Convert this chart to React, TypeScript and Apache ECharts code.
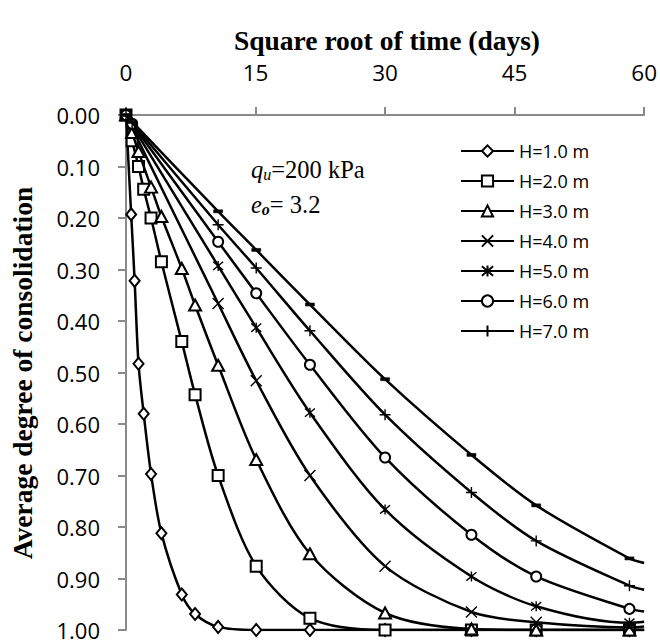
import React, { useEffect, useRef } from "react";
import * as echarts from "echarts";

// ---- data ----
const SERIES_NAMES = ["H=1.0 m", "H=2.0 m", "H=3.0 m", "H=4.0 m", "H=5.0 m", "H=6.0 m", "H=7.0 m", "H=8.0 m"];
const LEGEND_NAMES = SERIES_NAMES.slice(0, 7);

const X_TICKS = [0, 15, 30, 45, 60];

const H1_X = [0, 0.6, 1.0, 1.45, 2.05, 2.9, 4.1, 6.46, 8.0, 10.67, 15.08, 21.3, 30, 40, 47.5, 58.3];
const H1_U = [0, 0.193, 0.322, 0.483, 0.58, 0.697, 0.812, 0.931, 0.969, 0.994, 1, 1, 1, 1, 1, 1];

const H2_X = [0, 0.71, 1.45, 2.05, 2.9, 4.1, 6.46, 8.0, 10.67, 15.08, 21.3, 30, 40, 47.5, 58.3];
const H2_U = [0, 0.05, 0.1, 0.144, 0.2, 0.285, 0.44, 0.543, 0.7, 0.876, 0.977, 1, 1, 1, 1];

const H3_X = [0, 0.71, 1.45, 2.9, 4.1, 6.46, 8.0, 10.67, 15.08, 21.3, 30, 40, 47.5, 58.3];
const H3_U = [0, 0.034, 0.071, 0.14, 0.197, 0.298, 0.369, 0.486, 0.669, 0.852, 0.967, 0.998, 1, 1];

const LATE_X = [0, 0.71, 10.67, 15.08, 21.3, 30, 40, 47.5, 58.3];
const H4_U = [0, 0.025, 0.366, 0.516, 0.7, 0.876, 0.965, 0.985, 0.995];
const H5_U = [0, 0.02, 0.293, 0.413, 0.578, 0.766, 0.896, 0.954, 0.986];
const H6_U = [0, 0.017, 0.246, 0.346, 0.485, 0.665, 0.815, 0.896, 0.959];
const H7_U = [0, 0.015, 0.213, 0.297, 0.419, 0.582, 0.733, 0.827, 0.914];
const H8_U = [0, 0.013, 0.187, 0.262, 0.368, 0.513, 0.66, 0.758, 0.861];

// value of each curve where it leaves the plot at the right edge (x = 60)
const EDGE_X = 60;
const EDGE_U = [1, 1, 1, 0.993, 0.984, 0.964, 0.922, 0.87];

const SERIES_X = [H1_X, H2_X, H3_X, LATE_X, LATE_X, LATE_X, LATE_X, LATE_X];
const SERIES_U = [H1_U, H2_U, H3_U, H4_U, H5_U, H6_U, H7_U, H8_U];

const SANS = "Open Sans";
const SERIF = "Liberation Serif";
const AXIS_GRAY = "#8a8a8a";

type Mk = { symbol: string; size: number | number[]; hollow: boolean; filled?: boolean };
const MARKERS: Mk[] = [
  { symbol: "emptyDiamond", size: [10, 12], hollow: true },
  { symbol: "emptyRect", size: 11, hollow: true },
  { symbol: "emptyTriangle", size: [12, 11], hollow: true },
  { symbol: "path://M0,0L10,10M10,0L0,10", size: 11, hollow: false },
  { symbol: "path://M0,0L10,10M10,0L0,10M5,-1L5,11", size: 10, hollow: false },
  { symbol: "emptyCircle", size: 10, hollow: true },
  { symbol: "path://M5,0L5,10M0,5L10,5", size: 11, hollow: false },
  { symbol: "path://M0,0L10,0L10,3L0,3Z", size: [9, 3], hollow: false, filled: true },
];

function buildSeries() {
  return SERIES_NAMES.map((name, i) => {
    const xs = SERIES_X[i];
    const us = SERIES_U[i];
    const data: any[] = xs.map((x, k) => [x, us[k]]);
    data.push({ value: [EDGE_X, EDGE_U[i]], symbol: "none" });
    const m = MARKERS[i];
    const itemStyle = m.hollow
      ? { color: "#000", borderColor: "#000", borderWidth: 1.3 }
      : m.filled
      ? { color: "#000", borderColor: "#000", borderWidth: 0.5 }
      : { color: "rgba(0,0,0,0)", borderColor: "#000", borderWidth: 1.4 };
    return {
      type: "line",
      name,
      data,
      smooth: 0.3,
      showAllSymbol: true,
      symbol: m.symbol,
      symbolSize: m.size,
      lineStyle: { color: "#000", width: 2.5 },
      itemStyle,
      emphasis: { disabled: true },
      z: 2 + i,
    };
  });
}

export default function App() {
  const ref = useRef<HTMLDivElement | null>(null);

  useEffect(() => {
    document.body.style.margin = "0";
    if (!ref.current) return;
    const chart = echarts.init(ref.current, undefined, { renderer: "svg" });
    const option: any = {
      animation: false,
      backgroundColor: "#fff",
      grid: { left: 126, top: 115, width: 522, height: 515, containLabel: false },
      xAxis: {
        type: "value",
        position: "top",
        min: X_TICKS[0],
        max: X_TICKS[X_TICKS.length - 1],
        interval: 15,
        axisLine: { show: true, onZero: false, lineStyle: { color: AXIS_GRAY, width: 2 } },
        axisTick: { show: true, inside: false, length: 8, lineStyle: { color: AXIS_GRAY, width: 2 } },
        axisLabel: { margin: 31, fontFamily: SANS, fontSize: 22.5, color: "#000" },
        splitLine: { show: false },
      },
      yAxis: {
        type: "value",
        inverse: true,
        min: 0,
        max: 1,
        interval: 0.1,
        axisLine: { show: true, onZero: false, lineStyle: { color: AXIS_GRAY, width: 2 } },
        axisTick: { show: true, inside: false, length: 8, lineStyle: { color: AXIS_GRAY, width: 2 } },
        axisLabel: {
          margin: 26,
          fontFamily: SANS,
          fontSize: 22,
          lineHeight: 17,
          padding: [0, 0, 4, 0],
          color: "#000",
          formatter: (v: number) => v.toFixed(2),
        },
        splitLine: { show: false },
      },
      legend: {
        data: LEGEND_NAMES,
        orient: "vertical",
        left: 455,
        top: 136,
        itemWidth: 53,
        itemHeight: 14,
        itemGap: 10,
        selectedMode: false,
        textStyle: { fontFamily: SANS, fontSize: 18, color: "#000", lineHeight: 20 },
      },
      graphic: [
        {
          type: "text",
          x: 387,
          y: 40,
          style: {
            text: "Square root of time (days)",
            fontFamily: SERIF,
            fontWeight: "bold",
            fontSize: 27.5,
            fill: "#000",
            align: "center",
            verticalAlign: "middle",
          },
        },
        {
          type: "text",
          x: 22,
          y: 373,
          rotation: Math.PI / 2,
          style: {
            text: "Average degree of consolidation",
            fontFamily: SERIF,
            fontWeight: "bold",
            fontSize: 27.5,
            fill: "#000",
            align: "center",
            verticalAlign: "middle",
          },
        },
        {
          type: "text",
          x: 251,
          y: 182,
          style: {
            text: "{a|q}{b|u}{c|=200 kPa}",
            align: "left",
            verticalAlign: "bottom",
            rich: {
              a: { fontFamily: SERIF, fontStyle: "italic", fontSize: 24.5, fill: "#000", verticalAlign: "bottom" },
              b: { fontFamily: SERIF, fontStyle: "italic", fontSize: 16, fill: "#000", verticalAlign: "bottom" },
              c: { fontFamily: SERIF, fontSize: 24.5, fill: "#000", verticalAlign: "bottom" },
            },
          },
        },
        {
          type: "text",
          x: 251,
          y: 217,
          style: {
            text: "{a|e}{b|o}{c|= 3.2}",
            align: "left",
            verticalAlign: "bottom",
            rich: {
              a: { fontFamily: SERIF, fontStyle: "italic", fontSize: 24.5, fill: "#000", verticalAlign: "bottom" },
              b: { fontFamily: SERIF, fontStyle: "italic", fontWeight: "bold", fontSize: 16, fill: "#000", verticalAlign: "bottom" },
              c: { fontFamily: SERIF, fontSize: 24.5, fill: "#000", verticalAlign: "bottom" },
            },
          },
        },
      ],
      series: buildSeries(),
    };
    chart.setOption(option);
    return () => chart.dispose();
  }, []);

  return (
    <div
      ref={ref}
      style={{ position: "absolute", left: 0, top: 0, width: 660, height: 644, background: "#fff" }}
    />
  );
}
